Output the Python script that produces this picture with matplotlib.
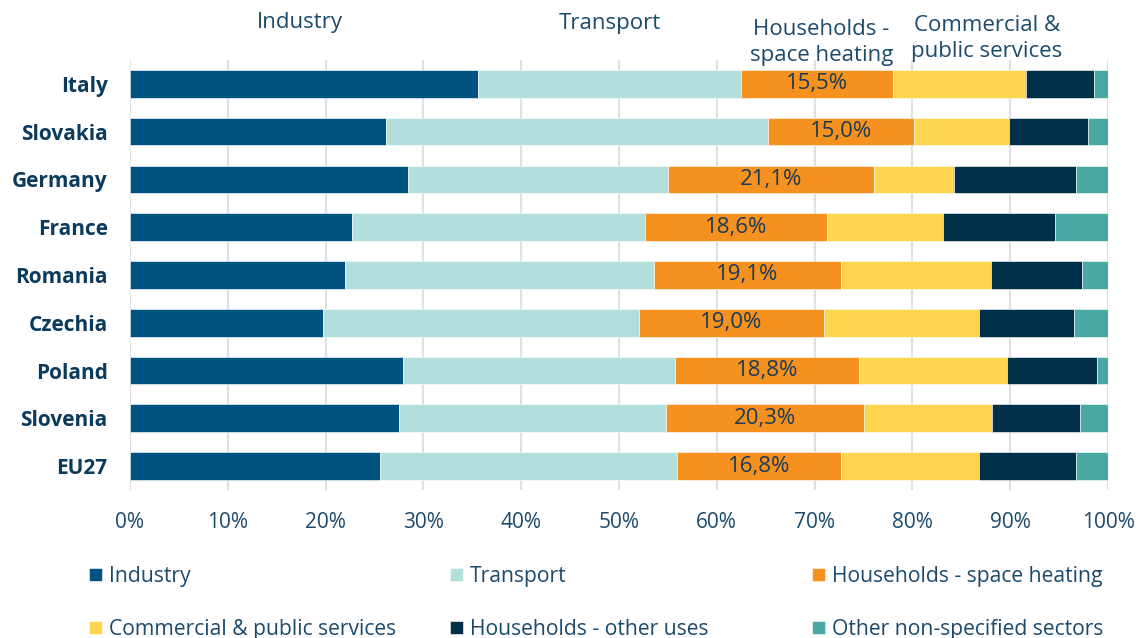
import numpy as np
import matplotlib.pyplot as plt
from matplotlib.transforms import blended_transform_factory

plt.rcParams['font.family'] = ['Open Sans', 'DejaVu Sans']

# Share of final energy consumption by sector (%)
countries = ['Italy', 'Slovakia', 'Germany', 'France', 'Romania',
             'Czechia', 'Poland', 'Slovenia', 'EU27']
industry = [35.6, 26.2, 28.4, 22.7, 22.0, 19.7, 27.9, 27.5, 25.6]
transport = [26.9, 39.0, 26.6, 30.0, 31.6, 32.3, 27.8, 27.3, 30.3]
hh_space = [15.5, 15.0, 21.1, 18.6, 19.1, 19.0, 18.8, 20.3, 16.8]
commercial = [13.6, 9.7, 8.2, 11.8, 15.3, 15.8, 15.2, 13.0, 14.1]
hh_other = [7.0, 8.1, 12.4, 11.5, 9.3, 9.7, 9.2, 9.0, 9.9]
other = [1.4, 2.0, 3.3, 5.4, 2.7, 3.5, 1.1, 2.9, 3.3]

sectors = ['Industry', 'Transport', 'Households - space heating',
           'Commercial & public services', 'Households - other uses',
           'Other non-specified sectors']
colors = ['#005280', '#b2dfdb', '#f5921f', '#fed54f', '#00304a', '#47a9a1']
series = [industry, transport, hh_space, commercial, hh_other, other]

header_text = ['Industry', 'Transport', 'Households -\nspace heating',
               'Commercial &\npublic services']
header_x = [17.4, 49.1, 70.7, 87.6]
header_y = [1.088, 1.084, 1.040, 1.050]

text_col = '#1b4a6b'

fig = plt.figure(figsize=(11.39, 6.38), dpi=100)
ax = fig.add_axes([0.1141, 0.232, 0.8587, 0.674])

y = np.arange(len(countries))
left = np.zeros(len(countries))
bars = []
for vals, name, col in zip(series, sectors, colors):
    b = ax.barh(y, vals, left=left, height=0.58, color=col, label=name,
                edgecolor='white', linewidth=0.4, zorder=3)
    bars.append(b)
    if name == 'Households - space heating':
        for yi, l, v in zip(y, left, vals):
            ax.text(l + v / 2, yi, f'{v:.1f}'.replace('.', ',') + '%',
                    ha='center', va='center', fontsize=16, color='#1b3a55',
                    zorder=4)
    left = left + np.array(vals)

ax.set_xlim(0, 100)
ax.set_ylim(len(countries) - 0.5, -0.5)
ax.set_xticks(np.arange(0, 101, 10))
ax.set_xticklabels([f'{t}%' for t in range(0, 101, 10)])
ax.set_yticks(y)
ax.set_yticklabels(countries, fontweight='bold')
ax.tick_params(axis='x', length=0, pad=16, labelsize=15, labelcolor=text_col)
ax.tick_params(axis='y', length=0, pad=16, labelsize=15, labelcolor='#0b3a5c')
ax.grid(axis='x', color='#e0e0e0', linewidth=1.5, zorder=0)
ax.set_axisbelow(True)
for s in ax.spines.values():
    s.set_visible(False)

trans = blended_transform_factory(ax.transData, ax.transAxes)
for t, hx, hy in zip(header_text, header_x, header_y):
    ax.text(hx, hy, t, transform=trans, ha='center', va='center',
            fontsize=16, color=text_col, linespacing=1.33)

# legend laid out row-wise in three columns
col_x = [0.078, 0.395, 0.713]
for i, cx in enumerate(col_x):
    leg = fig.legend([bars[i], bars[i + 3]], [sectors[i], sectors[i + 3]],
                     loc='center left', bbox_to_anchor=(cx, 0.055),
                     frameon=False, fontsize=15.2, handlelength=0.6,
                     handleheight=0.6, handletextpad=0.35, labelspacing=1.5,
                     borderpad=0, borderaxespad=0)
    for txt in leg.get_texts():
        txt.set_color(text_col)

plt.savefig('out.png', dpi=100)
